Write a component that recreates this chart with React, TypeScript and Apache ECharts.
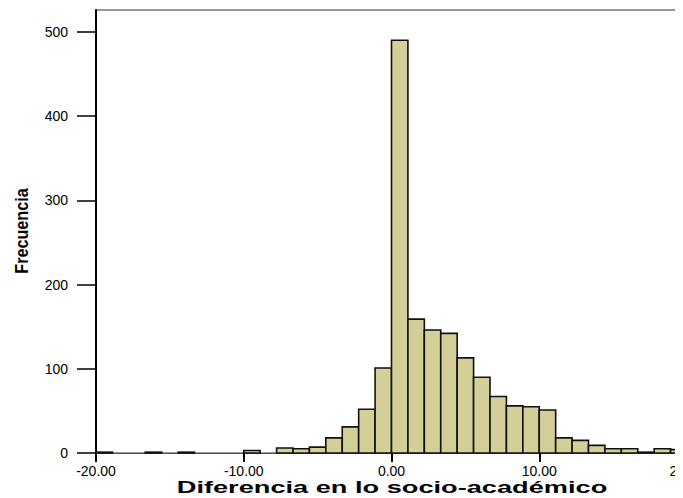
import React, { useEffect, useRef } from "react";
import * as echarts from "echarts";

// Histogram bins: 36 equal-width bins over [-20, 20]
const binMin = -20;
const binMax = 20;
const counts = [
  1, 0, 0, 1, 0, 1, 0, 0, 0, 3,
  0, 6, 5, 7, 18, 31, 52, 101, 490, 159,
  146, 142, 113, 90, 67, 56, 55, 51, 18, 15,
  9, 5, 5, 1, 5, 4,
];
const xTicks = [-20, -10, 0, 10, 20];
const yTicks = [0, 100, 200, 300, 400, 500];
const xTitle = "Diferencia en lo socio-académico";
const yTitle = "Frecuencia";

export default function App() {
  const ref = useRef<HTMLDivElement>(null);
  useEffect(() => {
    if (!ref.current) return;
    const chart = echarts.init(ref.current, null, { renderer: "svg" });
    const w = (binMax - binMin) / counts.length;
    const data = counts
      .map((c, i) => [binMin + i * w, binMin + (i + 1) * w, c])
      .filter((d) => d[2] > 0);
    const font = "'Liberation Sans', Arial, Helvetica, sans-serif";
    chart.setOption({
      animation: false,
      backgroundColor: "#ffffff",
      grid: {
        left: 96,
        top: 10,
        width: 591,
        height: 443,
        outerBoundsMode: "none",
        containLabel: false,
        show: true,
        borderColor: "#333",
        borderWidth: 1,
      },
      xAxis: {
        type: "value",
        min: -20,
        max: 20,
        interval: 10,
        splitLine: { show: false },
        axisLine: { show: true, onZero: false, lineStyle: { color: "#555", width: 1 } },
        axisTick: {
          show: true,
          length: 9,
          lineStyle: { color: "#000", width: 2 },
          customValues: xTicks,
        },
        axisLabel: {
          customValues: xTicks,
          formatter: (v: number) => v.toFixed(2),
          color: "#000",
          fontSize: 14,
          fontFamily: font,
          margin: 11,
        },
      },
      yAxis: {
        type: "value",
        min: 0,
        max: 526,
        splitLine: { show: false },
        axisLine: { show: true, onZero: false, lineStyle: { color: "#000", width: 2 } },
        axisTick: {
          show: true,
          length: 19,
          lineStyle: { color: "#000", width: 1.5 },
          customValues: yTicks,
        },
        axisLabel: {
          customValues: yTicks,
          color: "#000",
          fontSize: 14,
          fontFamily: font,
          margin: 28,
        },
      },
      series: [
        {
          type: "custom",
          data,
          encode: { x: [0, 1], y: 2 },
          renderItem: (params: any, api: any) => {
            const start = api.value(0);
            const end = api.value(1);
            const c = api.value(2);
            const p0 = api.coord([start, c]);
            const p1 = api.coord([end, 0]);
            return {
              type: "rect",
              shape: {
                x: p0[0],
                y: p0[1],
                width: p1[0] - p0[0],
                height: p1[1] - p0[1],
              },
              style: { fill: "#d4cf98", stroke: "#111", lineWidth: 1.6 },
            };
          },
        },
      ],
      graphic: [
        {
          type: "text",
          x: 392,
          y: 488,
          scaleX: 1.7,
          style: {
            text: xTitle,
            fontSize: 16,
            fontWeight: "bold",
            fontFamily: font,
            fill: "#000",
            align: "center",
            verticalAlign: "middle",
          },
        },
        {
          type: "text",
          x: 22,
          y: 231,
          rotation: Math.PI / 2,
          scaleX: 0.9,
          style: {
            text: yTitle,
            fontSize: 18,
            fontWeight: "bold",
            fontFamily: font,
            fill: "#000",
            align: "center",
            verticalAlign: "middle",
          },
        },
      ],
    });
    return () => chart.dispose();
  }, []);
  return <div ref={ref} style={{ width: 683, height: 498, marginLeft: -8, marginTop: -8 }} />;
}
